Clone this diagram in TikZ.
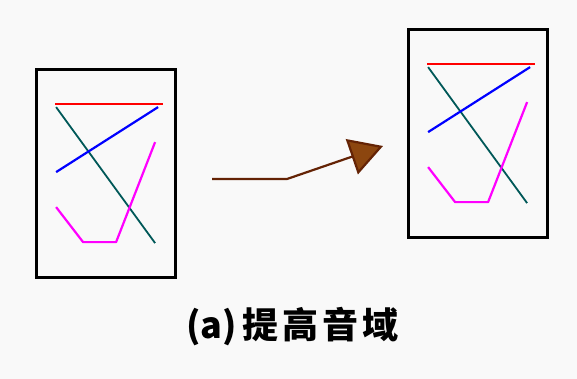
\documentclass[tikz,border=0pt]{standalone}
\usepackage{fontspec}
\setmainfont{Noto Sans CJK SC}
\usepackage{xcolor}
\usetikzlibrary{arrows.meta}

\definecolor{bgcol}{RGB}{249,249,249}
\definecolor{redline}{RGB}{255,0,0}
\definecolor{blueline}{RGB}{0,0,255}
\definecolor{tealline}{RGB}{0,88,88}
\definecolor{pinkline}{RGB}{255,0,255}
\definecolor{arrowline}{RGB}{100,35,5}
\definecolor{arrowfill}{RGB}{140,70,15}

\newcommand{\cjkgap}{\hspace{4pt}}

\begin{document}
\begin{tikzpicture}[
    x=1pt, y=-1pt,
    frame/.style={draw=black, line width=2.8pt, fill=bgcol, minimum width=139pt, minimum height=208pt, inner sep=0pt},
    stroke/.style={line width=2.2pt, line join=round},
    arr/.style={-{Triangle[length=33pt, width=37pt, fill=arrowfill]}, draw=arrowline, line width=2.2pt},
    captext/.style={font=\bfseries\fontsize{36}{40}\selectfont, inner sep=0pt}
]
% background and page size
\fill[bgcol] (0,0) rectangle (577,379);

% the two frames
\node[frame] (before) at (106,173.5) {};
\node[frame] (after) at (478,133.5) {};

% same strokes in both frames
\foreach \b in {before,after} {
  \begin{scope}[shift={(\b.north west)}]
    \draw[stroke, redline] (20,36) -- (128,36);
    \draw[stroke, tealline, line width=1.8pt] (21,39) -- (120,175);
    \draw[stroke, blueline] (21,104) -- (123,39);
    \draw[stroke, pinkline] (21,139) -- (48,174) -- (81,174) -- (120,74);
  \end{scope}
}

% arrow between them
\coordinate (start) at (212,179);
\coordinate (bend) at (287,179);
\coordinate (tip) at (383,146);
\draw[arr] (start) -- (bend) -- (tip);

\node[captext] (caption) at (292.5,327) {(a)\hspace{6pt}提\cjkgap 高\cjkgap 音\cjkgap 域};
\end{tikzpicture}
\end{document}
